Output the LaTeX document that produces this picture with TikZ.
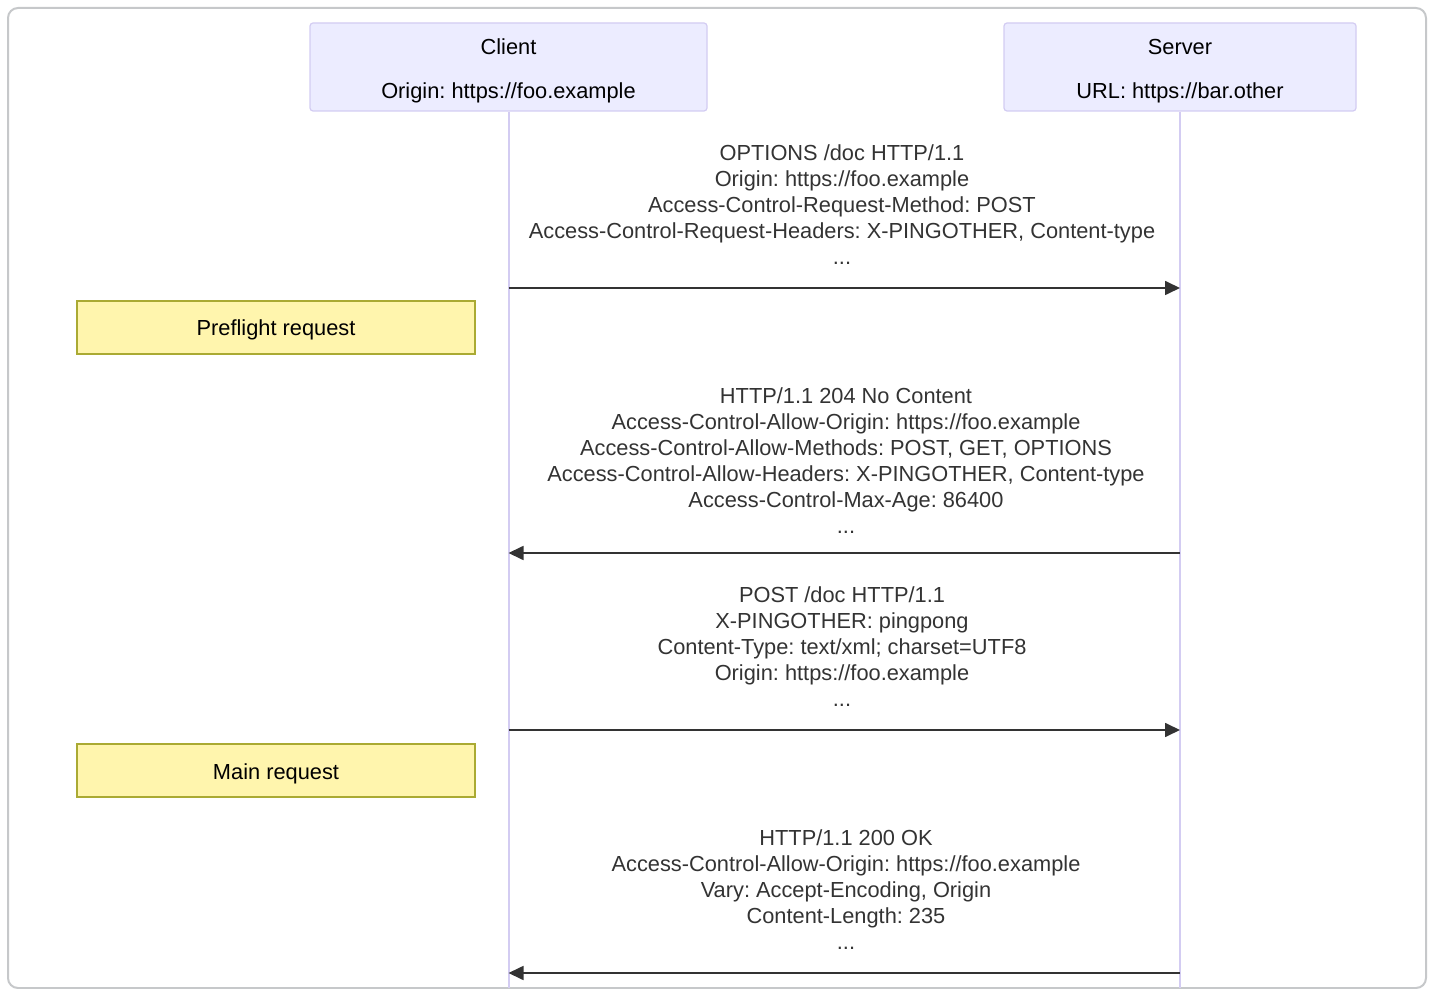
\documentclass[tikz,border=0pt]{standalone}
\usepackage{fontspec}
\setmainfont{Liberation Sans}
\usetikzlibrary{arrows.meta,positioning}
\definecolor{actorfill}{HTML}{ECECFF}
\definecolor{actorline}{HTML}{D3CCF2}
\definecolor{notefill}{HTML}{FFF5AD}
\definecolor{noteline}{HTML}{AAAA33}
\definecolor{msgline}{HTML}{333333}
\definecolor{framecol}{HTML}{C6C8CA}
\frenchspacing

\begin{document}
\begin{tikzpicture}[
  x=0.5pt, y=-0.5pt,
  font=\fontsize{10.9}{13}\selectfont,
  actor/.style={draw=actorline, fill=actorfill, rounded corners=1.5pt,
                line width=0.6pt, align=center, inner sep=0pt,
                minimum height=44pt},
  note/.style={draw=noteline, fill=notefill, line width=0.6pt,
               inner sep=0pt, minimum width=199pt, minimum height=26.5pt,
               text height=10.8pt, text depth=2.3pt},
  txt/.style={align=center, inner sep=0pt, text=msgline},
  life/.style={draw=actorline, line width=1pt},
  arr/.style={-{Triangle[length=7.5pt,width=7pt]}, draw=msgline,
              line width=0.85pt},
]
  \useasboundingbox (0,0) rectangle (1430,989);
  \draw[framecol, line width=1pt, rounded corners=5pt] (8,8) rectangle (1426,988);

  %% ---- actors ----
  \node[actor, minimum width=198.5pt] (client) at (508.5,67)
    {\rule{0pt}{12pt}Client\\[9pt]Origin: https://foo.example};
  \node[actor, minimum width=176pt] (server) at (1180,67)
    {\rule{0pt}{12pt}Server\\[9pt]URL: https://bar.other};
  \coordinate (cbot) at (client |- 0,988);
  \coordinate (sbot) at (server |- 0,988);
  \draw[life] (client) -- (cbot);
  \draw[life] (server) -- (sbot);

  %% ---- notes ----
  \node[note] (pre) at (276,327.5) {Preflight request};
  \node[note] (main) at (276,770.5) {Main request};

  %% ---- preflight ----
  \node[txt] (m1) at (842,204.5)
    {OPTIONS /doc HTTP/1.1\\Origin: https://foo.example\\
     Access-Control-Request-Method: POST\\
     Access-Control-Request-Headers: X-PINGOTHER, Content-type\\...};
  \coordinate (c1) at (client |- 0,288);
  \coordinate (s1) at (server |- 0,288);
  \draw[arr] (c1) -- (s1);

  \node[txt] (m2) at (846,461)
    {HTTP/1.1 204 No Content\\
     Access-Control-Allow-Origin: https://foo.example\\
     Access-Control-Allow-Methods: POST, GET, OPTIONS\\
     Access-Control-Allow-Headers: X-PINGOTHER, Content-type\\
     Access-Control-Max-Age: 86400\\...};
  \coordinate (c2) at (client |- 0,553);
  \coordinate (s2) at (server |- 0,553);
  \draw[arr] (s2) -- (c2);

  %% ---- main request ----
  \node[txt] (m3) at (842,646.5)
    {POST /doc HTTP/1.1\\X-PINGOTHER: pingpong\\
     Content-Type: text/xml; charset=UTF8\\
     Origin: https://foo.example\\...};
  \coordinate (c3) at (client |- 0,730);
  \coordinate (s3) at (server |- 0,730);
  \draw[arr] (c3) -- (s3);

  \node[txt] (m4) at (846,889.5)
    {HTTP/1.1 200 OK\\
     Access-Control-Allow-Origin: https://foo.example\\
     Vary: Accept-Encoding, Origin\\
     Content-Length: 235\\...};
  \coordinate (c4) at (client |- 0,973);
  \coordinate (s4) at (server |- 0,973);
  \draw[arr] (s4) -- (c4);
\end{tikzpicture}
\end{document}
